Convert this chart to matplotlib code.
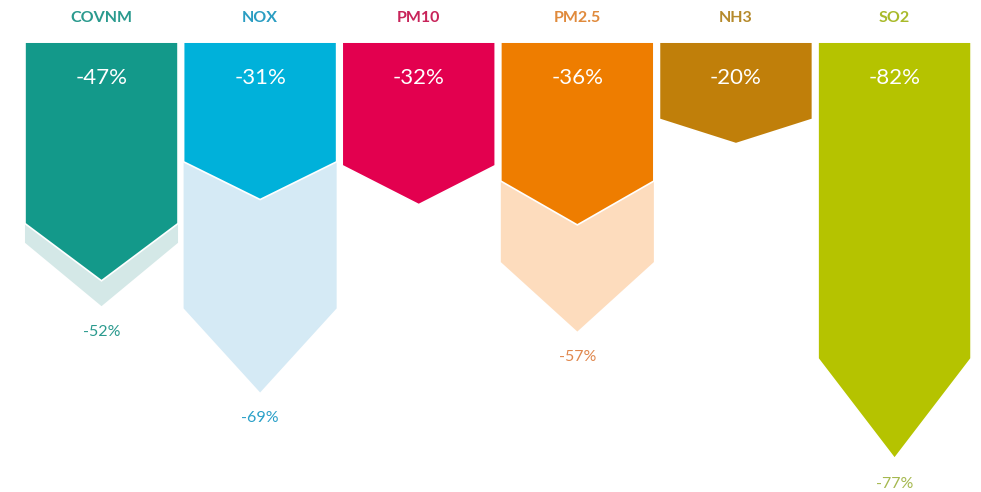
import numpy as np
import matplotlib.pyplot as plt
from matplotlib.patches import Polygon

plt.rcParams['font.family'] = ['Lato', 'DejaVu Sans']

# Emission reductions (%) achieved and targeted, per pollutant
pollutants = ['COVNM', 'NOX', 'PM10', 'PM2.5', 'NH3', 'SO2']
achieved = [47, 31, 32, 36, 20, 82]
target = [52, 69, None, 57, None, 77]

dark_colors = ['#13998a', '#00b1da', '#e3004f', '#ee7d00', '#c07f0a', '#b5c300']
light_colors = ['#d4e8e7', '#d5eaf5', '#f7d0dc', '#fddcbd', '#f2e2c4', '#e9eebf']
name_colors = ['#2a9a8e', '#2a9dc2', '#c8245a', '#e08a3c', '#b58a2c', '#a9ba2a']
target_colors = ['#2a9a8e', '#2aa0c8', '#c8245a', '#e0884e', '#b58a2c', '#a5b84e']

width = 0.965
head_frac = 0.24


def arrow(ax, x, depth, color, z, edge='none'):
    # column hanging from 0 and ending in a downward chevron at `depth`
    head = depth * head_frac
    pts = [(x - width / 2, 0), (x + width / 2, 0), (x + width / 2, depth - head),
           (x, depth), (x - width / 2, depth - head)]
    ax.add_patch(Polygon(pts, closed=True, facecolor=color, edgecolor=edge,
                         linewidth=1.2, zorder=z))


fig = plt.figure(figsize=(9.81, 4.92), dpi=100)
ax = fig.add_axes([0, 0, 1, 1])
ax.set_xlim(-0.64, 5.545)
ax.set_ylim(88.6, -8.3)
ax.axis('off')

for i, name in enumerate(pollutants):
    if target[i] is not None:
        arrow(ax, i, target[i], light_colors[i], 1)
    arrow(ax, i, achieved[i], dark_colors[i], 2, edge='white')

    ax.text(i, -4.7, name, ha='center', va='center', fontsize=11.5,
            fontweight='bold', color=name_colors[i])
    ax.text(i, 7.0, f'-{achieved[i]}%', ha='center', va='center',
            fontsize=16, color='white', zorder=3)
    if target[i] is not None:
        bottom = max(target[i], achieved[i])
        ax.text(i, bottom + 5.0, f'-{target[i]}%', ha='center', va='center',
                fontsize=11.5, color=target_colors[i])

fig.savefig('out.png', dpi=100, facecolor='white')
